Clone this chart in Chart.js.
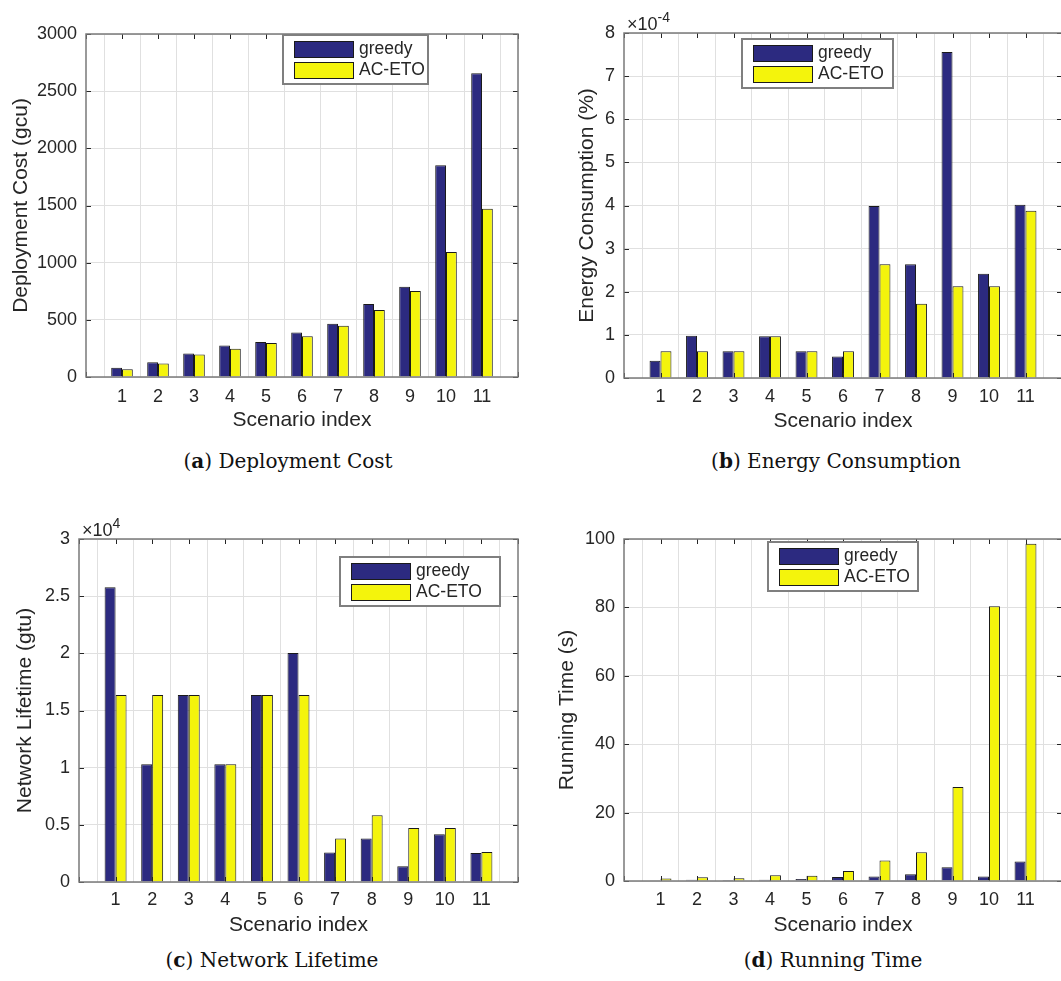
<!DOCTYPE html>
<html lang="en">
<head>
    <meta charset="UTF-8">
    <title>Scenario comparison</title>
    <script src="https://cdn.jsdelivr.net/npm/chart.js"></script>
    <style>
        body {
            margin: 0;
            background: #fff;
            overflow: hidden;
            width: 1061px;
            height: 981px;
            position: relative;
        }
        .panel { position: absolute; }
        .cap {
            position: absolute;
            transform: translateX(-50%);
            font-family: 'DejaVu Serif', serif;
            font-size: 20px;
            line-height: 22px;
            color: #111;
            white-space: nowrap;
        }
    </style>
</head>
<body>
    <div class="panel" style="left:0;top:0"><canvas id="costChart" width="530" height="440"></canvas></div>
    <div class="panel" style="left:530px;top:0"><canvas id="energyChart" width="533" height="440"></canvas></div>
    <div class="panel" style="left:0;top:490px"><canvas id="lifeChart" width="530" height="450"></canvas></div>
    <div class="panel" style="left:530px;top:490px"><canvas id="timeChart" width="533" height="450"></canvas></div>

    <div class="cap" style="left:288px;top:450px">(<b>a</b>) Deployment Cost</div>
    <div class="cap" style="left:836px;top:450px">(<b>b</b>) Energy Consumption</div>
    <div class="cap" style="left:272px;top:949px">(<b>c</b>) Network Lifetime</div>
    <div class="cap" style="left:833px;top:949px">(<b>d</b>) Running Time</div>

    <script>
        const scenarios = ["1", "2", "3", "4", "5", "6", "7", "8", "9", "10", "11"];
        const seriesNames = ["greedy", "AC-ETO"];

        // deployment cost (gcu)
        const costGreedy = [80, 130, 205, 275, 307, 389, 465, 638, 790, 1852, 2657];
        const costAceto  = [68, 118, 196, 246, 298, 357, 448, 585, 752, 1094, 1472];

        // energy consumption (%), in units of 1e-4
        const energyGreedy = [0.40, 0.98, 0.62, 0.97, 0.62, 0.50, 3.99, 2.64, 7.56, 2.42, 4.02];
        const energyAceto  = [0.62, 0.62, 0.62, 0.97, 0.62, 0.62, 2.64, 1.72, 2.13, 2.13, 3.88];

        // network lifetime (gtu), in units of 1e4
        const lifeGreedy = [2.577, 1.03, 1.636, 1.03, 1.636, 2.004, 0.257, 0.38, 0.137, 0.418, 0.254];
        const lifeAceto  = [1.636, 1.636, 1.636, 1.03, 1.636, 1.636, 0.38, 0.584, 0.473, 0.473, 0.263];

        // running time (s)
        const timeGreedy = [0.1, 0.4, 0.3, 0.4, 0.6, 1.2, 1.3, 2.0, 4.0, 1.3, 5.7];
        const timeAceto  = [0.7, 1.1, 0.8, 1.7, 1.5, 2.9, 6.0, 8.4, 27.5, 80.3, 98.6];

        const greedyColor = "#2c2a80";
        const acetoColor = "#f4f40c";
        const textColor = "#262626";
        const sans = "'Liberation Sans', Arial, sans-serif";

        // matlab-ish frame: full box, inward ticks, legend inside the axes, x10^n label
        const matlabFrame = {
            id: "matlabFrame",
            afterDraw(chart, args, opts) {
                const ctx = chart.ctx;
                const a = chart.chartArea;
                const x = chart.scales.x, y = chart.scales.y;
                ctx.save();

                ctx.strokeStyle = textColor;
                ctx.lineWidth = 1;
                ctx.beginPath();
                x.ticks.forEach((t, i) => {
                    const px = Math.round(x.getPixelForTick(i)) + 0.5;
                    ctx.moveTo(px, a.top); ctx.lineTo(px, a.top + 5);
                    ctx.moveTo(px, a.bottom); ctx.lineTo(px, a.bottom - 5);
                });
                y.ticks.forEach((t, i) => {
                    const py = Math.round(y.getPixelForTick(i)) + 0.5;
                    ctx.moveTo(a.left, py); ctx.lineTo(a.left + 5, py);
                    ctx.moveTo(a.right, py); ctx.lineTo(a.right - 5, py);
                });
                ctx.stroke();

                ctx.strokeStyle = "#7a7a7a";
                ctx.lineWidth = 1.5;
                ctx.strokeRect(a.left, a.top, a.right - a.left, a.bottom - a.top);

                // exponent label
                if (opts.expo) {
                    ctx.fillStyle = textColor;
                    ctx.textBaseline = "alphabetic";
                    ctx.textAlign = "left";
                    ctx.font = "18px " + sans;
                    const base = "\u00d710";
                    ctx.fillText(base, a.left + 3, a.top - 3);
                    const w = ctx.measureText(base).width;
                    ctx.font = "14px " + sans;
                    ctx.fillText(opts.expo, a.left + 3 + w, a.top - 11);
                }

                // legend box
                const lg = opts.legend;
                const h = 49;
                ctx.fillStyle = "#fff";
                ctx.fillRect(lg.x, lg.y, lg.w, h);
                ctx.strokeStyle = "#7f7f7f";
                ctx.lineWidth = 2;
                ctx.strokeRect(lg.x, lg.y, lg.w, h);
                chart.data.datasets.forEach((ds, i) => {
                    const sy = lg.y + 6 + i * 21;
                    ctx.fillStyle = ds.backgroundColor;
                    ctx.fillRect(lg.x + 11, sy, 59, 16);
                    ctx.strokeStyle = "#1a1a1a";
                    ctx.lineWidth = 1;
                    ctx.strokeRect(lg.x + 11.5, sy + 0.5, 59, 16);
                    ctx.fillStyle = textColor;
                    ctx.font = "17.5px " + sans;
                    ctx.textBaseline = "middle";
                    ctx.fillText(ds.label, lg.x + 11 + 59 + 6, sy + 8.5);
                });
                ctx.restore();
            }
        };

        function pad(arr) {
            return [null].concat(arr, [null]);
        }

        function makeChart(id, p) {
            const ctx = document.getElementById(id).getContext("2d");
            return new Chart(ctx, {
                type: "bar",
                data: {
                    labels: [""].concat(scenarios, [""]),
                    datasets: [
                        { label: seriesNames[0], data: pad(p.greedy), backgroundColor: greedyColor },
                        { label: seriesNames[1], data: pad(p.aceto), backgroundColor: acetoColor }
                    ]
                },
                options: {
                    responsive: false,
                    animation: false,
                    devicePixelRatio: 1,
                    layout: { padding: { top: p.top, right: p.right, left: 0, bottom: 0 } },
                    datasets: {
                        bar: {
                            categoryPercentage: 0.6,
                            barPercentage: 1,
                            borderColor: "#1a1a1a",
                            borderWidth: 1
                        }
                    },
                    scales: {
                        x: {
                            type: "category",
                            offset: false,
                            grid: { color: "#e0e0e0", lineWidth: 1, drawTicks: false },
                            border: { display: false },
                            ticks: {
                                color: textColor, font: { family: sans, size: 18 },
                                padding: p.xTickPad, autoSkip: false, maxRotation: 0
                            },
                            title: {
                                display: true, text: "Scenario index", color: textColor,
                                font: { family: sans, size: 21 }, padding: { top: 0, bottom: p.xTitlePad }
                            },
                            afterFit: s => {
                                s.height = p.xH;
                                s.paddingLeft = 0;
                                s.paddingRight = 0;
                            }
                        },
                        y: {
                            min: p.min, max: p.max,
                            grid: { color: "#e0e0e0", lineWidth: 1, drawTicks: false },
                            border: { display: false },
                            ticks: {
                                stepSize: p.step, color: textColor, font: { family: sans, size: 18 },
                                padding: 9, callback: v => String(v)
                            },
                            title: {
                                display: true, text: p.yTitle, color: textColor,
                                font: { family: sans, size: 21 }, padding: { top: p.yTitlePad, bottom: 0 }
                            },
                            afterFit: s => { s.width = p.yW; }
                        }
                    },
                    plugins: {
                        legend: { display: false },
                        tooltip: { enabled: false },
                        matlabFrame: { legend: p.legend, expo: p.expo }
                    }
                },
                plugins: [matlabFrame]
            });
        }

        makeChart("costChart", {
            greedy: costGreedy, aceto: costAceto,
            min: 0, max: 3000, step: 500, yTitle: "Deployment Cost (gcu)",
            top: 34, right: 12, yW: 86, xH: 63, xTickPad: 9, xTitlePad: 7, yTitlePad: 9,
            legend: { x: 283, y: 35, w: 145 }
        });

        makeChart("energyChart", {
            greedy: energyGreedy, aceto: energyAceto,
            min: 0, max: 8, step: 1, yTitle: "Energy Consumption (%)", expo: "-4",
            top: 33, right: 1, yW: 94, xH: 62, xTickPad: 8, xTitlePad: 6, yTitlePad: 45,
            legend: { x: 212, y: 39, w: 151 }
        });

        makeChart("lifeChart", {
            greedy: lifeGreedy, aceto: lifeAceto,
            min: 0, max: 3, step: 0.5, yTitle: "Network Lifetime (gtu)", expo: "4",
            top: 49, right: 12, yW: 79, xH: 58, xTickPad: 7, xTitlePad: 2, yTitlePad: 13,
            legend: { x: 340, y: 67, w: 160 }
        });

        makeChart("timeChart", {
            greedy: timeGreedy, aceto: timeAceto,
            min: 0, max: 100, step: 20, yTitle: "Running Time (s)",
            top: 49, right: 1, yW: 94, xH: 59, xTickPad: 8, xTitlePad: 2, yTitlePad: 25,
            legend: { x: 238, y: 52, w: 150 }
        });
    </script>
</body>
</html>
